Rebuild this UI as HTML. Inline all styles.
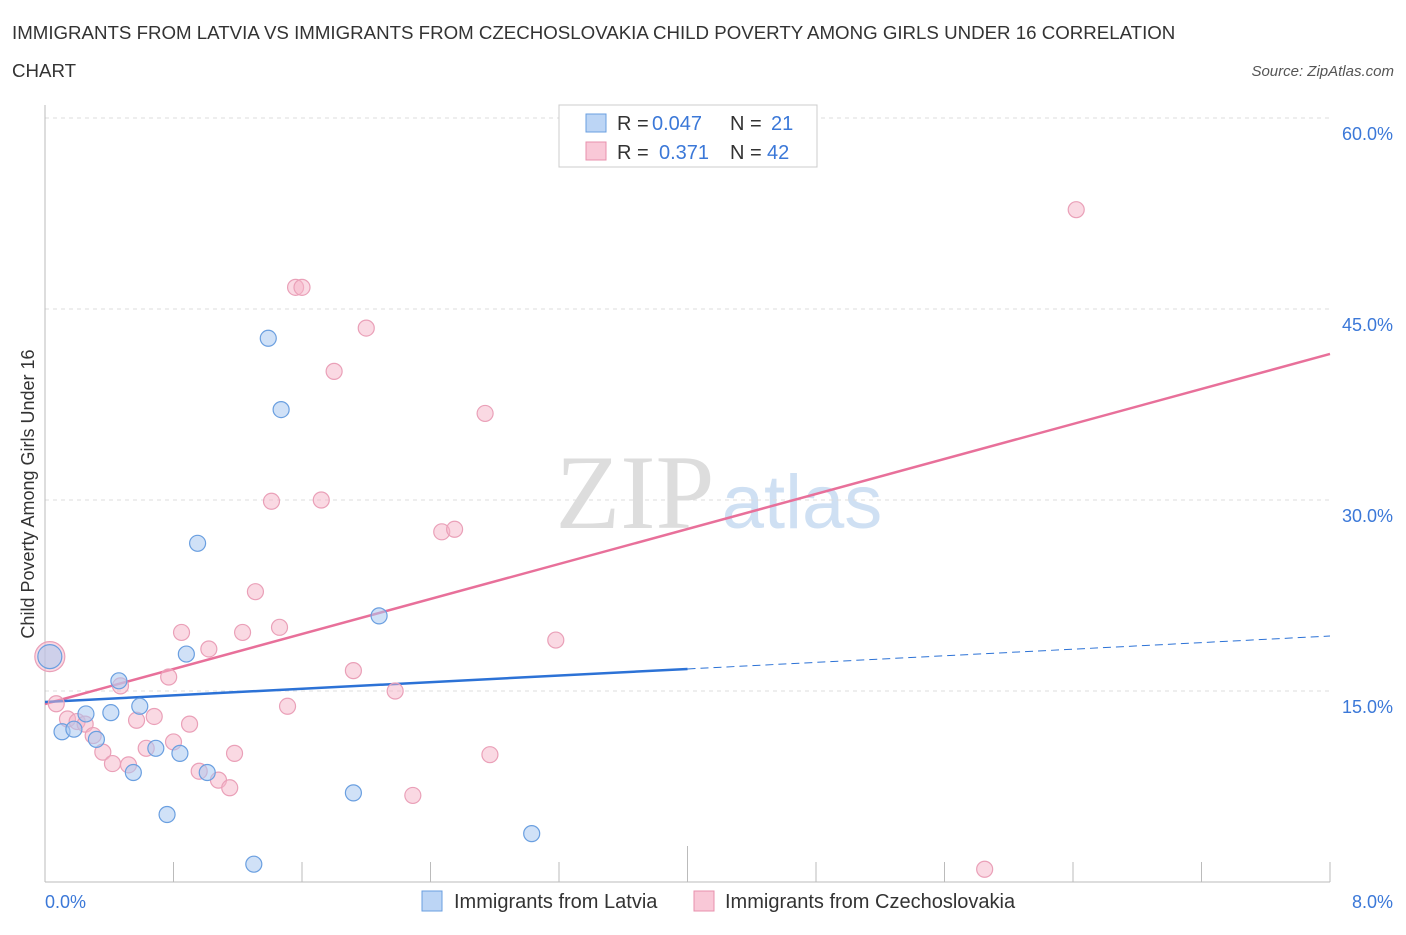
<!DOCTYPE html>
<html><head><meta charset="utf-8"><style>
body{margin:0;background:#fff;font-family:"Liberation Sans",sans-serif;}
</style></head><body>
<svg width="1406" height="930" xmlns="http://www.w3.org/2000/svg" id="chart">
<text x="12" y="39" font-size="18.7" fill="#333">IMMIGRANTS FROM LATVIA VS IMMIGRANTS FROM CZECHOSLOVAKIA CHILD POVERTY AMONG GIRLS UNDER 16 CORRELATION</text>
<text x="12" y="77" font-size="18.7" fill="#333">CHART</text>
<text x="1394" y="76" font-size="15" fill="#555" font-style="italic" text-anchor="end">Source: ZipAtlas.com</text>
<text x="635" y="528" font-size="106" fill="#ddd" font-family="Liberation Serif" text-anchor="middle">ZIP</text>
<text x="802" y="528" font-size="76" fill="#cfe0f3" text-anchor="middle">atlas</text>
<text x="34" y="494" font-size="18" fill="#333" text-anchor="middle" transform="rotate(-90 34 494)">Child Poverty Among Girls Under 16</text>
<g id="grid"></g><g id="axes"></g><g id="trend"></g><g id="pts"></g>
<g>
<rect x="559" y="105" width="258" height="62" fill="#fff" stroke="#ccc"/>
<rect x="586" y="114" width="20" height="18" fill="#bcd5f5" stroke="#6a9fe0"/>
<rect x="586" y="142" width="20" height="18" fill="#f9c8d7" stroke="#e890ac"/>
<text x="617" y="130" font-size="20" fill="#333">R = <tspan fill="#3b78d8" x="652">0.047</tspan><tspan x="730">N = </tspan><tspan fill="#3b78d8" x="771">21</tspan></text>
<text x="617" y="159" font-size="20" fill="#333">R = <tspan fill="#3b78d8" x="659">0.371</tspan><tspan x="730">N = </tspan><tspan fill="#3b78d8" x="767">42</tspan></text>
</g>
<g>
<rect x="422" y="891" width="20" height="20" fill="#bcd5f5" stroke="#6a9fe0"/>
<text x="454" y="908" font-size="20" fill="#333">Immigrants from Latvia</text>
<rect x="694" y="891" width="20" height="20" fill="#f9c8d7" stroke="#e890ac"/>
<text x="725" y="908" font-size="20" fill="#333">Immigrants from Czechoslovakia</text>
</g>
</svg>
<script>
const yTicks=[15,30,45,60];
const xTickLabels=["0.0%","8.0%"];
const latviaX=[0.03,0.106,0.18,0.255,0.32,0.41,0.46,0.55,0.59,0.69,0.76,0.84,0.88,0.95,1.01,1.30,1.39,1.47,1.92,2.08,3.03];
const latviaY=[17.7,11.8,12.0,13.2,11.2,13.3,15.8,8.6,13.8,10.5,5.3,10.1,17.9,26.6,8.6,1.4,42.7,37.1,7.0,20.9,3.8];
const czechX=[0.03,0.07,0.14,0.2,0.25,0.30,0.36,0.42,0.47,0.52,0.57,0.63,0.68,0.77,0.80,0.85,0.90,0.96,1.02,1.08,1.15,1.18,1.23,1.31,1.41,1.46,1.51,1.56,1.60,1.72,1.80,1.92,2.0,2.18,2.29,2.47,2.55,2.74,2.77,3.18,5.85,6.42];
const czechY=[17.7,14.0,12.8,12.6,12.4,11.5,10.2,9.3,15.4,9.2,12.7,10.5,13.0,16.1,11.0,19.6,12.4,8.7,18.3,8.0,7.4,10.1,19.6,22.8,29.9,20.0,13.8,46.7,46.7,30.0,40.1,16.6,43.5,15.0,6.8,27.5,27.7,36.8,10.0,19.0,1.0,52.8];
const latviaTrend=[14.14,19.32];
const czechTrend=[13.98,41.47];
const X0=45,X1=1330,Y0=882;
const sx=v=>X0+(v/8)*(X1-X0);
const sy=v=>Y0-v*191/15;
const NS="http://www.w3.org/2000/svg";
function mk(p,t,a){const e=document.createElementNS(NS,t);for(const k in a)e.setAttribute(k,a[k]);p.appendChild(e);return e;}
const grid=document.getElementById('grid'),axes=document.getElementById('axes'),trend=document.getElementById('trend'),pts=document.getElementById('pts');
yTicks.forEach(t=>{
 const l=mk(grid,'line',{x1:X0,x2:X1,y1:sy(t),y2:sy(t),stroke:'#ddd','stroke-dasharray':'4,4'});
 
 
 const tx=mk(axes,'text',{x:1393,y:sy(t)+22,'font-size':18,fill:'#3b78d8','text-anchor':'end'});
 tx.textContent=t.toFixed(1)+'%';
 
 
});
const ax=mk(axes,'line',{x1:X0,x2:X1,y1:Y0,y2:Y0,stroke:'#bbb'});


const ay=mk(axes,'line',{x1:X0,x2:X0,y1:105,y2:Y0,stroke:'#bbb'});


for(let i=0;i<=10;i++){const x=sx(i*0.8);const t=mk(axes,'line',{x1:x,x2:x,y1:Y0,y2:Y0-(i==5?36:20),stroke:'#bbb'});
 
 }
[[0,'start',45],[8,'end',1393]].forEach((d,i)=>{const t=mk(axes,'text',{x:d[2],y:908,'font-size':18,fill:'#3b78d8','text-anchor':d[1]});t.textContent=xTickLabels[i];
 
 });
const ly=x=>latviaTrend[0]+(latviaTrend[1]-latviaTrend[0])*x/8;
const cy=x=>czechTrend[0]+(czechTrend[1]-czechTrend[0])*x/8;
let l1=mk(trend,'line',{x1:sx(0),y1:sy(cy(0)),x2:sx(8),y2:sy(cy(8)),stroke:'#e8709a','stroke-width':2.5});


let l2=mk(trend,'line',{x1:sx(0),y1:sy(ly(0)),x2:sx(4),y2:sy(ly(4)),stroke:'#2c72d6','stroke-width':2.5});


let l3=mk(trend,'line',{x1:sx(4),y1:sy(ly(4)),x2:sx(8),y2:sy(ly(8)),stroke:'#2c72d6','stroke-width':1,'stroke-dasharray':'8,5'});


czechX.forEach((x,i)=>{const c=mk(pts,'circle',{cx:sx(x),cy:sy(czechY[i]),r:i==0?15:8,fill:'rgba(246,180,200,0.5)',stroke:'#eaa0b8','stroke-width':1.2});
 
 });
latviaX.forEach((x,i)=>{const c=mk(pts,'circle',{cx:sx(x),cy:sy(latviaY[i]),r:i==0?12:8,fill:'rgba(170,200,240,0.55)',stroke:'#6a9fe0','stroke-width':1.2});
 
 });
</script>
</body></html>
